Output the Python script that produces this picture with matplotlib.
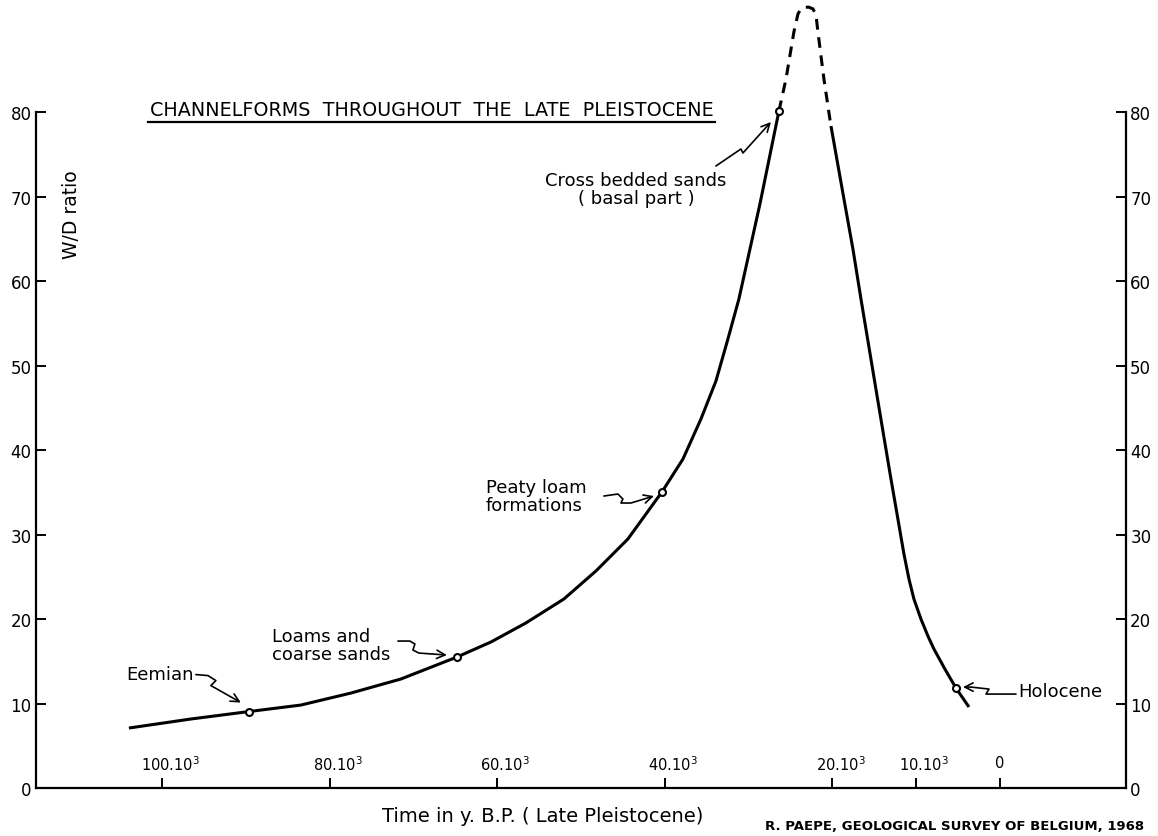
import numpy as np
import matplotlib.pyplot as plt
from matplotlib.lines import Line2D
from matplotlib.patches import FancyArrowPatch
from matplotlib.path import Path
from matplotlib.transforms import ScaledTranslation

# data (years B.P., W/D ratio)
age_solid_left = [103970, 96570, 89650, 83440, 77470, 71510, 64820, 60760, 56590, 52050,
                  48230, 44410, 40350, 37840, 35690, 33900, 32470, 31160, 28650, 26380]
wd_solid_left = [7.10, 8.17, 9.05, 9.82, 11.24, 12.90, 15.50, 17.28, 19.53, 22.37,
                 25.68, 29.47, 35.03, 38.93, 43.67, 48.17, 53.14, 57.87, 69.11, 80.12]
age_dashed = [26380, 25540, 24590, 24110, 23760, 23280, 22800, 22320, 21960, 21730, 21010, 20170]
wd_dashed = [80.12, 83.9, 89.5, 91.6, 92.2, 92.4, 92.4, 92.2, 91.5, 89.5, 83.9, 78.3]
age_solid_right = [20170, 18620, 17550, 16590, 15400, 14210, 13010, 12180, 11460, 10860,
                   10270, 9430, 8600, 7880, 6570, 5250, 3700]
wd_solid_right = [78.34, 69.70, 63.79, 57.87, 50.77, 43.67, 36.57, 31.83, 27.69, 24.73,
                  22.37, 20.00, 17.99, 16.45, 14.08, 11.83, 9.59]

# marked horizons
horizon_names = ['Eemian', 'Loams and\ncoarse sands', 'Peaty loam\nformations',
                 'Cross bedded sands\n( basal part )', 'Holocene']
horizon_age = [89650, 64820, 40350, 26380, 5250]
horizon_wd = [9.05, 15.50, 35.03, 80.12, 11.83]

xtick_vals = [100000, 80000, 60000, 40000, 20000, 10000, 0]
xtick_labels = [r'100.10$^{3}$', r'80.10$^{3}$', r'60.10$^{3}$', r'40.10$^{3}$',
                r'20.10$^{3}$', r'10.10$^{3}$', '0']
ytick_vals = [0, 10, 20, 30, 40, 50, 60, 70, 80]

fig = plt.figure(figsize=(11.58, 8.37), dpi=100)
ax = fig.add_axes([0.0308, 0.0573, 0.9416, 0.8077])

ax.plot(age_solid_left, wd_solid_left, color='black', lw=2.2, clip_on=False, solid_capstyle='butt')
ax.plot(age_dashed, wd_dashed, color='black', lw=2.2, ls=(0, (3.5, 2.5)), clip_on=False)
ax.plot(age_solid_right, wd_solid_right, color='black', lw=2.2, clip_on=False, solid_capstyle='butt')
ax.plot(horizon_age, horizon_wd, 'o', ms=5, mfc='white', mec='black', mew=1.5, clip_on=False, zorder=5)

ax.set_xlim(115100, -15050)
ax.set_ylim(0, 80)
ax.spines['top'].set_visible(False)
for s in ['left', 'right', 'bottom']:
    ax.spines[s].set_linewidth(1.6)

ax.set_xticks(xtick_vals)
ax.set_xticklabels(xtick_labels, fontsize=10.5)
ax.tick_params(axis='x', direction='in', length=7, width=1.4, pad=-24)
shift = ScaledTranslation(8 / 100, 0, fig.dpi_scale_trans)
for lab in ax.get_xticklabels()[:-1]:
    lab.set_transform(lab.get_transform() + shift)
ax.set_yticks(ytick_vals)
ax.tick_params(axis='y', direction='in', length=7, width=1.4, labelsize=12,
               left=True, right=True, labelleft=True, labelright=True, pad=3)

ax.set_ylabel('W/D ratio', fontsize=13.5, va='center')
ax.yaxis.set_label_coords(0.0333, 0.849)
ax.set_xlabel('Time in y. B.P. ( Late Pleistocene)', fontsize=14, va='center')
ax.xaxis.set_label_coords(0.465, -0.041)

# text offsets from the marked point, in points
offsets = [(-40, 27), (-133, 9), (-127, -3), (-103, -56), (45, -2)]
aligns = ['right', 'left', 'left', 'center', 'left']
for name, a, w, off, ha in zip(horizon_names, horizon_age, horizon_wd, offsets, aligns):
    ax.annotate(name, xy=(a, w), xytext=off, textcoords='offset points',
                ha=ha, va='center', fontsize=13, multialignment='left' if ha == 'right' else ha,
                linespacing=1.0, annotation_clip=False)

# hand-drawn style squiggly arrows, pixel offsets from each point (y up)
squiggles = [
    [(-53, 37), (-41, 36), (-33, 31), (-38, 26), (-8, 9)],
    [(-59, 16), (-47, 16), (-42, 13), (-44, 7), (-38, 4), (-10, 2)],
    [(-58, -4), (-44, -2), (-39, -7), (-41, -11), (-31, -11), (-8, -4)],
    [(-63, -55), (-38, -38), (-36, -42), (-8, -11)],
    [(60, -6), (30, -6), (33, -1), (15, 1), (7, 1)],
]
for a, w, pts in zip(horizon_age, horizon_wd, squiggles):
    tr = fig.dpi_scale_trans + ScaledTranslation(a, w, ax.transData)
    arr = FancyArrowPatch(path=Path(np.array(pts) / 100.0),
                          arrowstyle='->,head_length=0.6,head_width=0.3', mutation_scale=10,
                          lw=1.2, color='black', transform=tr)
    fig.add_artist(arr)

fig.text(150 / 1158, 1 - 110 / 837, 'CHANNELFORMS  THROUGHOUT  THE  LATE  PLEISTOCENE',
         fontsize=13.8, ha='left', va='center')
fig.add_artist(Line2D([148 / 1158, 715 / 1158], [1 - 123 / 837, 1 - 123 / 837],
                      color='black', lw=1.6))
fig.text(765 / 1158, 1 - 827 / 837, 'R. PAEPE, GEOLOGICAL SURVEY OF BELGIUM, 1968',
         fontsize=9.5, fontweight='bold', ha='left', va='center')

plt.savefig('out.png', dpi=100)
